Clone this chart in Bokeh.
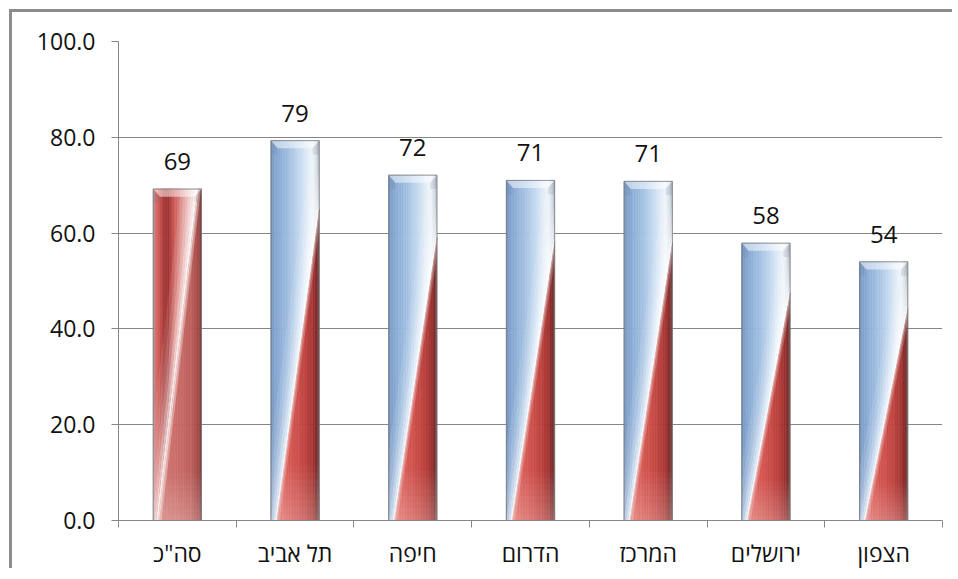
import numpy as np
from bokeh.plotting import figure
from bokeh.models import FixedTicker, Range1d, ColumnDataSource
from bokeh.embed import file_html
from bokeh.resources import INLINE
from bokeh.core.properties import value

# ---------------- data ----------------
categories = ['סה"כ', 'תל אביב', 'חיפה', 'הדרום', 'המרכז', 'ירושלים', 'הצפון']
values = [69.2, 79.3, 72.1, 71.0, 70.8, 57.9, 54.0]
value_labels = ["69", "79", "72", "71", "71", "58", "54"]
y_ticks = [0, 20, 40, 60, 80, 100]
y_tick_labels = ["0.0", "20.0", "40.0", "60.0", "80.0", "100.0"]

# ---------------- styling helpers ----------------
BAR_W = 0.41
N_STRIPS = 30
FONT = "Open Sans"
GRAY = "#868686"


def hex2rgb(h):
    h = h.lstrip("#")
    return np.array([int(h[i:i + 2], 16) for i in (0, 2, 4)], dtype=float)


def palette(anchors, t):
    ts = [a[0] for a in anchors]
    cs = np.array([hex2rgb(a[1]) for a in anchors])
    rgb = [np.interp(t, ts, cs[:, k]) for k in range(3)]
    return "#%02x%02x%02x" % tuple(int(round(c)) for c in rgb)


BLUE_L = [(0.0, "#6a8ab6"), (0.05, "#7f9fca"), (0.2, "#8fb0d7"), (0.4, "#a6c3e3"),
          (0.6, "#c4d9ef"), (0.78, "#e4eef8"), (0.88, "#eef3f8"), (0.95, "#c8d3df"),
          (1.0, "#8e9cab")]
RED_R = [(0.0, "#e27a74"), (0.3, "#da5e58"), (0.55, "#cd4f4a"), (0.75, "#ba403c"),
         (0.88, "#a03432"), (0.96, "#7e2a2a"), (1.0, "#6e5050")]
TOT_L = [(0.0, "#8ea2c2"), (0.05, "#d8746c"), (0.12, "#cc5a55"), (0.22, "#a83a3a"),
         (0.32, "#a03434"), (0.42, "#c85450"), (0.58, "#dc8682"), (0.75, "#e8b2b0"),
         (1.0, "#f0d0ce")]
TOT_R = [(0.0, "#d27a76"), (0.5, "#ca6c68"), (0.8, "#bd605c"), (0.93, "#a44a48"),
         (1.0, "#804444")]


def clip(poly, hp):
    A, B, C = hp
    out = []
    n = len(poly)
    for i in range(n):
        P = poly[i]
        Q = poly[(i + 1) % n]
        fp = A * P[0] + B * P[1] + C
        fq = A * Q[0] + B * Q[1] + C
        if fp >= 0:
            out.append(P)
        if (fp >= 0) != (fq >= 0):
            r = fp / (fp - fq)
            out.append((P[0] + r * (Q[0] - P[0]), P[1] + r * (Q[1] - P[1])))
    return out


base = dict(xs=[], ys=[], c=[])
over = dict(xs=[], ys=[], c=[], a=[])


def add(store, poly, xl, color, alpha=None):
    if len(poly) < 3:
        return
    store["xs"].append([xl + p[0] * BAR_W for p in poly])
    store["ys"].append([p[1] for p in poly])
    store["c"].append(color)
    if alpha is not None:
        store["a"].append(alpha)


for i, v in enumerate(values):
    xl = i + 0.5 - BAR_W / 2
    total = (i == 0)
    a = 0.1 if total else 0.12
    hr = v * 1.1 if total else v * 0.82
    k = (1 - a) / hr
    L = TOT_L if total else BLUE_L
    R = TOT_R if total else RED_R
    rect = [(0, 0), (1, 0), (1, v), (0, v)]

    def u_ge(c):
        return (1.0, -k, -a - c)

    def u_le(c):
        return (-1.0, k, a + c)

    edges = np.linspace(0, 1, N_STRIPS + 1)
    for j in range(N_STRIPS):
        t0, t1 = edges[j], edges[j + 1]
        tm = 0.5 * (t0 + t1)
        strip = clip(clip(rect, (1, 0, -t0)), (-1, 0, t1))
        add(base, clip(strip, u_le(0)), xl, palette(L, tm))
        add(base, clip(strip, u_ge(0)), xl, palette(R, tm))

    # whitening toward the diagonal on the left side
    bands = [(-0.34, -0.26, 0.1), (-0.26, -0.19, 0.2), (-0.19, -0.13, 0.33),
             (-0.13, -0.08, 0.5), (-0.08, -0.04, 0.68), (-0.04, 0.0, 0.88)]
    for u0, u1, al in bands:
        poly = clip(clip(rect, u_ge(u0)), u_le(u1))
        add(over, poly, xl, "#ffffff", al)
    # highlight just right of diagonal
    rb = [(0.0, 0.025, 0.5), (0.025, 0.06, 0.22)] if not total else \
         [(0.0, 0.03, 0.7), (0.03, 0.07, 0.35)]
    for u0, u1, al in rb:
        poly = clip(clip(rect, u_ge(u0)), u_le(u1))
        add(over, poly, xl, "#ffffff", al)
    # lighter bottom on the red part (soft)
    nb = 8
    for b in range(nb):
        f0, f1 = b * 0.018, (b + 1) * 0.018
        al = 0.22 * (1 - b / nb)
        poly = clip(clip(clip(rect, (0, 1, -f0 * v)), (0, -1, f1 * v)), u_ge(0.03))
        add(over, poly, xl, "#ffffff", al)
    # top bevel cap
    cap = 1.6
    add(over, [(0, v), (1, v), (0.86, v - cap), (0.14, v - cap)], xl, "#ffffff", 0.5)
    add(over, [(0, v), (0.14, v - cap), (0.14, v - 1.8 * cap), (0, v - 1.8 * cap)], xl, "#5a6f8a", 0.12)
    add(over, [(1, v), (0.86, v - cap), (0.86, v - 1.8 * cap), (1, v - 1.8 * cap)], xl, "#5a5a6a", 0.12)

# ---------------- figure ----------------
p = figure(width=943, height=559, x_range=Range1d(0, 7), y_range=Range1d(0, 100),
           output_backend="svg", toolbar_location=None,
           min_border_left=106, min_border_right=13, min_border_top=29, min_border_bottom=50)
p.margin = (9, 0, 0, 9)
p.styles = {"border-top": "3px solid #8c8c8c", "border-left": "3px solid #8c8c8c"}
p.outline_line_color = None
p.background_fill_color = "white"

p.patches(xs=base["xs"], ys=base["ys"], fill_color=base["c"], line_color=base["c"], line_width=0.6)
p.patches(xs=over["xs"], ys=over["ys"], fill_color=over["c"], fill_alpha=over["a"], line_color=None)

centers = [i + 0.5 for i in range(len(categories))]
p.vbar(x=centers, width=BAR_W, top=values, bottom=0, fill_color=None,
       line_color="#7a7a7a", line_width=1, line_alpha=0.8)

src = ColumnDataSource(dict(x=centers, y=values, t=value_labels))
p.text(x="x", y="y", text="t", source=src, text_align="center", text_baseline="bottom",
       y_offset=-19, text_font=value(FONT), text_font_size="24px", text_color="#111111")

# grid
p.xgrid.grid_line_color = None
p.ygrid.grid_line_color = GRAY
p.ygrid.ticker = FixedTicker(ticks=y_ticks)

# y axis
p.yaxis.ticker = FixedTicker(ticks=y_ticks)
p.yaxis.major_label_overrides = {t: s for t, s in zip(y_ticks, y_tick_labels)}
p.yaxis.axis_line_color = GRAY
p.yaxis.major_tick_line_color = GRAY
p.yaxis.major_tick_out = 7
p.yaxis.major_tick_in = 0
p.yaxis.minor_tick_line_color = None
p.yaxis.major_label_standoff = 16
p.yaxis.major_label_text_font = FONT
p.yaxis.major_label_text_font_size = "23px"
p.yaxis.major_label_text_color = "#111111"

# x axis
p.xaxis.ticker = FixedTicker(ticks=centers, minor_ticks=list(range(len(categories) + 1)))
p.xaxis.major_label_overrides = {c: s for c, s in zip(centers, categories)}
p.xaxis.axis_line_color = GRAY
p.xaxis.major_tick_line_color = None
p.xaxis.major_tick_out = 0
p.xaxis.major_tick_in = 0
p.xaxis.minor_tick_line_color = GRAY
p.xaxis.minor_tick_out = 7
p.xaxis.minor_tick_in = 0
p.xaxis.major_label_standoff = 9
p.xaxis.major_label_text_font = FONT
p.xaxis.major_label_text_font_size = "23px"
p.xaxis.major_label_text_color = "#111111"

open("out.html", "w").write(file_html(p, INLINE))
